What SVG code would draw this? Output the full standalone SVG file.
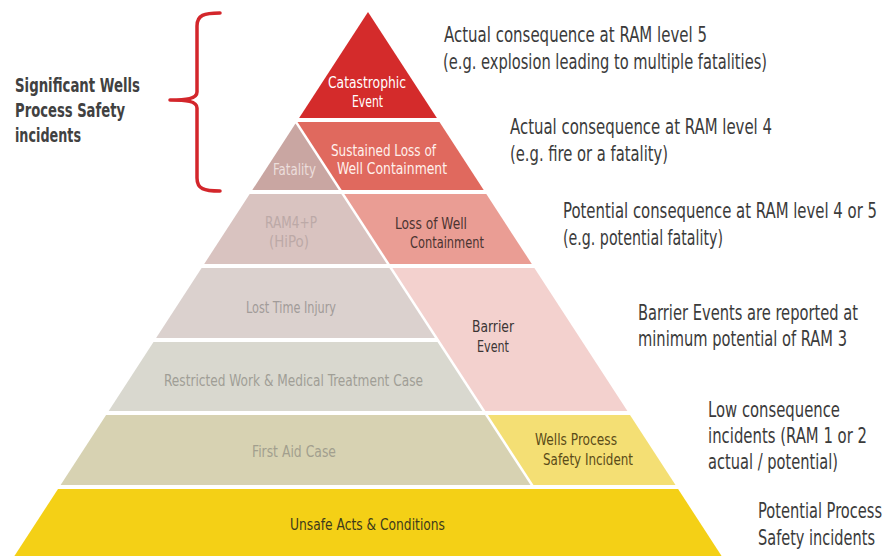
<svg xmlns="http://www.w3.org/2000/svg" width="883" height="556" viewBox="0 0 883 556">
  <style>
    text { font-family: "DejaVu Sans Condensed", "Liberation Sans", sans-serif; }
    .lbl { font-size: 16.5px; }
    .desc { font-size: 20.5px; fill: #3b3b3b; }
    .side { font-size: 19.5px; font-weight: bold; fill: #414141; }
    .brace { fill: none; stroke: #d3262b; stroke-width: 3.5; stroke-linecap: round; stroke-linejoin: round; }
  </style>
  <rect width="883" height="556" fill="#ffffff"/>

  <!-- bracket and side caption -->
  <g id="bracket">
    <path class="brace" d="M220,13 C204,13 197,15 197,26 L197,92 C197,99 186,100 170,100 C186,100 197,101 197,108 L197,178 C197,189 204,191 220,191"/>
    <text class="side" x="15" y="92" textLength="125" lengthAdjust="spacingAndGlyphs">Significant Wells</text>
    <text class="side" x="15" y="117" textLength="110" lengthAdjust="spacingAndGlyphs">Process Safety</text>
    <text class="side" x="15" y="142" textLength="66" lengthAdjust="spacingAndGlyphs">incidents</text>
  </g>

  <!-- right-hand column: wells process safety tiers -->
  <g id="catastrophic-event">
    <polygon points="368,12 436.9,118 299.1,118" fill="#d42b2b"/>
    <text class="lbl" x="328" y="88" fill="#ffffff" textLength="78" lengthAdjust="spacingAndGlyphs">Catastrophic</text>
    <text class="lbl" x="352" y="107" fill="#ffffff" textLength="31" lengthAdjust="spacingAndGlyphs">Event</text>
  </g>
  <g id="sustained-loss">
    <polygon points="297.5,122 439.5,122 483.7,190 341.7,190" fill="#e0695e"/>
    <text class="lbl" x="331" y="156" fill="#fff1ed" textLength="105" lengthAdjust="spacingAndGlyphs">Sustained Loss of</text>
    <text class="lbl" x="337" y="174" fill="#fff1ed" textLength="110" lengthAdjust="spacingAndGlyphs">Well Containment</text>
  </g>
  <g id="loss-of-containment">
    <polygon points="344.3,194 486.3,194 531.8,264 389.8,264" fill="#ea9d94"/>
    <text class="lbl" x="395" y="229" fill="#4a3431" textLength="72" lengthAdjust="spacingAndGlyphs">Loss of Well</text>
    <text class="lbl" x="410" y="248" fill="#4a3431" textLength="74" lengthAdjust="spacingAndGlyphs">Containment</text>
  </g>
  <g id="barrier-event">
    <polygon points="392.4,268 534.4,268 627.4,411 485.4,411" fill="#f3d1ce"/>
    <text class="lbl" x="472" y="332" fill="#3b3535" textLength="42" lengthAdjust="spacingAndGlyphs">Barrier</text>
    <text class="lbl" x="477" y="352" fill="#3b3535" textLength="32" lengthAdjust="spacingAndGlyphs">Event</text>
  </g>
  <g id="wells-process-safety-incident">
    <polygon points="488,415 630,415 675.5,485 533.5,485" fill="#f4df74"/>
    <text class="lbl" x="535" y="445" fill="#5a4b18" textLength="82" lengthAdjust="spacingAndGlyphs">Wells Process</text>
    <text class="lbl" x="543" y="465" fill="#5a4b18" textLength="90" lengthAdjust="spacingAndGlyphs">Safety Incident</text>
  </g>

  <!-- left-hand column: personal safety tiers -->
  <g id="fatality">
    <polygon points="295.5,123.5 338.7,190 252.3,190" fill="#c9a6a2"/>
    <text class="lbl" x="273" y="175" fill="#ecdedc" textLength="43" lengthAdjust="spacingAndGlyphs">Fatality</text>
  </g>
  <g id="ram4p-hipo">
    <polygon points="249.7,194 341.3,194 386.8,264 204.2,264" fill="#d9c3c0"/>
    <text class="lbl" x="265" y="228" fill="#bca9a7" textLength="52" lengthAdjust="spacingAndGlyphs">RAM4+P</text>
    <text class="lbl" x="269" y="247" fill="#bca9a7" textLength="40" lengthAdjust="spacingAndGlyphs">(HiPo)</text>
  </g>
  <g id="lost-time-injury">
    <polygon points="201.6,268 389.4,268 434.9,338 156.1,338" fill="#dbd1ce"/>
    <text class="lbl" x="246" y="313" fill="#a19b99" textLength="90" lengthAdjust="spacingAndGlyphs">Lost Time Injury</text>
  </g>
  <g id="restricted-work">
    <polygon points="153.5,342 437.5,342 482.4,411 108.7,411" fill="#d9d8cf"/>
    <text class="lbl" x="164" y="386" fill="#a09e96" textLength="259" lengthAdjust="spacingAndGlyphs">Restricted Work &amp; Medical Treatment Case</text>
  </g>
  <g id="first-aid-case">
    <polygon points="106.1,415 485,415 530.5,485 60.6,485" fill="#d7d2b2"/>
    <text class="lbl" x="252" y="457" fill="#a29f8e" textLength="84" lengthAdjust="spacingAndGlyphs">First Aid Case</text>
  </g>

  <!-- base tier -->
  <g id="unsafe-acts">
    <polygon points="58,489 678.1,489 721.6,556 14.4,556" fill="#f4d016"/>
    <text class="lbl" x="290" y="530" fill="#3d3a1c" textLength="155" lengthAdjust="spacingAndGlyphs">Unsafe Acts &amp; Conditions</text>
  </g>

  <!-- tier descriptions -->
  <g id="descriptions">
    <text class="desc" x="444" y="42" textLength="263" lengthAdjust="spacingAndGlyphs">Actual consequence at RAM level 5</text>
    <text class="desc" x="443" y="69" textLength="324" lengthAdjust="spacingAndGlyphs">(e.g. explosion leading to multiple fatalities)</text>
    <text class="desc" x="510" y="134" textLength="262" lengthAdjust="spacingAndGlyphs">Actual consequence at RAM level 4</text>
    <text class="desc" x="510" y="161" textLength="158" lengthAdjust="spacingAndGlyphs">(e.g. fire or a fatality)</text>
    <text class="desc" x="563" y="218" textLength="314" lengthAdjust="spacingAndGlyphs">Potential consequence at RAM level 4 or 5</text>
    <text class="desc" x="563" y="245" textLength="160" lengthAdjust="spacingAndGlyphs">(e.g. potential fatality)</text>
    <text class="desc" x="638" y="320" textLength="220" lengthAdjust="spacingAndGlyphs">Barrier Events are reported at</text>
    <text class="desc" x="638" y="346" textLength="209" lengthAdjust="spacingAndGlyphs">minimum potential of RAM 3</text>
    <text class="desc" x="708" y="417" textLength="132" lengthAdjust="spacingAndGlyphs">Low consequence</text>
    <text class="desc" x="708" y="443" textLength="159" lengthAdjust="spacingAndGlyphs">incidents (RAM 1 or 2</text>
    <text class="desc" x="708" y="469" textLength="130" lengthAdjust="spacingAndGlyphs">actual / potential)</text>
    <text class="desc" x="758" y="518" textLength="124" lengthAdjust="spacingAndGlyphs">Potential Process</text>
    <text class="desc" x="758" y="545" textLength="117" lengthAdjust="spacingAndGlyphs">Safety incidents</text>
  </g>
</svg>
